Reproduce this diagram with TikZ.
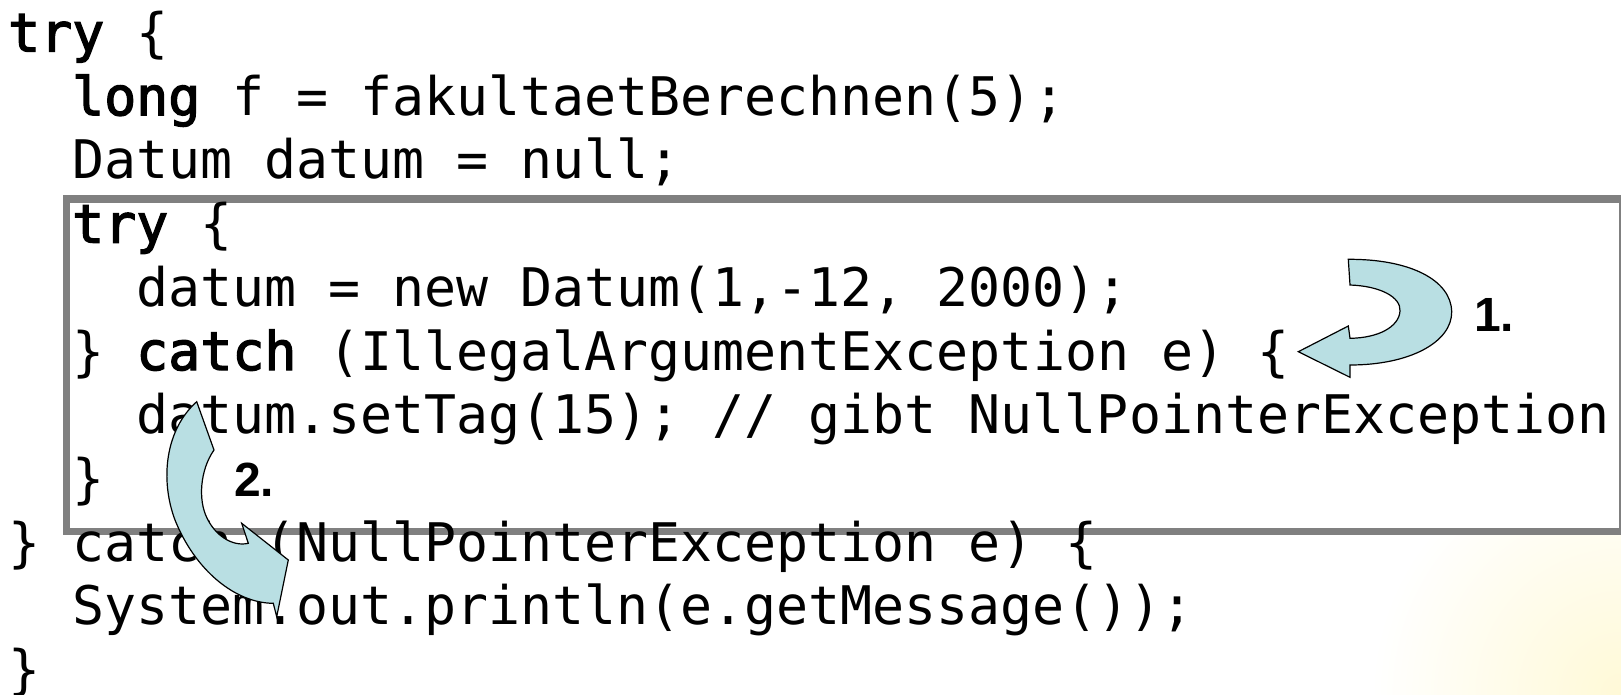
\documentclass[tikz,border=0pt]{standalone}
\usepackage{fontspec}
\setmainfont{Liberation Sans}
\setmonofont{DejaVu Sans Mono}
\definecolor{arrowblue}{RGB}{185,223,227}
\definecolor{boxgray}{RGB}{128,128,128}
\definecolor{glow}{RGB}{255,249,215}
\newcommand{\kw}[1]{{\addfontfeature{FakeBold=2.5}#1}}
\tikzset{
  code/.style={anchor=base west, inner sep=0pt, font=\fontsize{53.2}{64}\selectfont\ttfamily\frenchspacing},
  numlabel/.style={anchor=base west, inner sep=0pt, font=\fontsize{48}{54}\selectfont\bfseries},
  bentarrow/.style={fill=arrowblue, draw=black, line width=1.2pt, line join=miter}
}
\begin{document}
\begin{tikzpicture}[x=1pt,y=-1pt]
        \useasboundingbox (0,0) rectangle (1621,694);
        \fill[white] (0,0) rectangle (1621,694);
        \begin{scope}
            \clip (0,0) rectangle (1621,694);
            \shade[inner color=glow, outer color=white] (1621,694) circle [radius=250];
            % inner try block
            \draw[boxgray, fill=white, line width=7.5pt] (66.5,199) rectangle (1623,531.5);
        \end{scope}
        \node [code] (l1) at (8,51.5) {\kw{try} \{};
        \node [code] (l2) at (72,115.2) {\kw{long} f = fakultaetBerechnen(5);};
        \node [code] (l3) at (72,178.9) {Datum datum = null;};
        \node [code] (l4) at (72,242.6) {\kw{try} \{};
        \node [code] (l5) at (136,306.3) {datum = new Datum(1,-12, 2000);};
        \node [code] (l6) at (72,370) {\} \kw{catch} (IllegalArgumentException e) \{};
        \node [code] (l7) at (136,433.7) {datum.setTag(15); // gibt NullPointerException};
        \node [code] (l8) at (72,497.4) {\}};
        \node [code] (l9) at (8,561.1) {\} catch (NullPointerException e) \{};
        \node [code] (l10) at (72,624.8) {System.out.println(e.getMessage());};
        \node [code] (l11) at (8,688.5) {\}};
        % 1. jump to the inner catch
        \draw[bentarrow] (1348.3,259.3) -- (1350,285)
            .. controls (1380,286) and (1401,297) .. (1400,311)
            .. controls (1399,327) and (1378,338) .. (1350,338.3)
            -- (1348.3,326) -- (1298.3,351.7) -- (1350,377.3) -- (1350,365)
            .. controls (1410,365) and (1452,342) .. (1451.7,311.7)
            .. controls (1451,280) and (1410,259) .. (1348.3,259.3) -- cycle;
        % 2. jump to the outer catch
        \draw[bentarrow] (196.7,401.7) -- (214,450)
            .. controls (200,470) and (198,500) .. (207,518)
            .. controls (215,535) and (232,547) .. (248.3,543.3)
            -- (241.7,523.3) -- (288.3,560) -- (276.7,616.7) -- (273.3,603.3)
            .. controls (235,603) and (195,570) .. (175,520)
            .. controls (160,480) and (165,430) .. (196.7,401.7) -- cycle;
        \node [numlabel] (n1) at (1474,331) {1.};
        \node [numlabel] (n2) at (234,496) {2.};
    \end{tikzpicture}
\end{document}
